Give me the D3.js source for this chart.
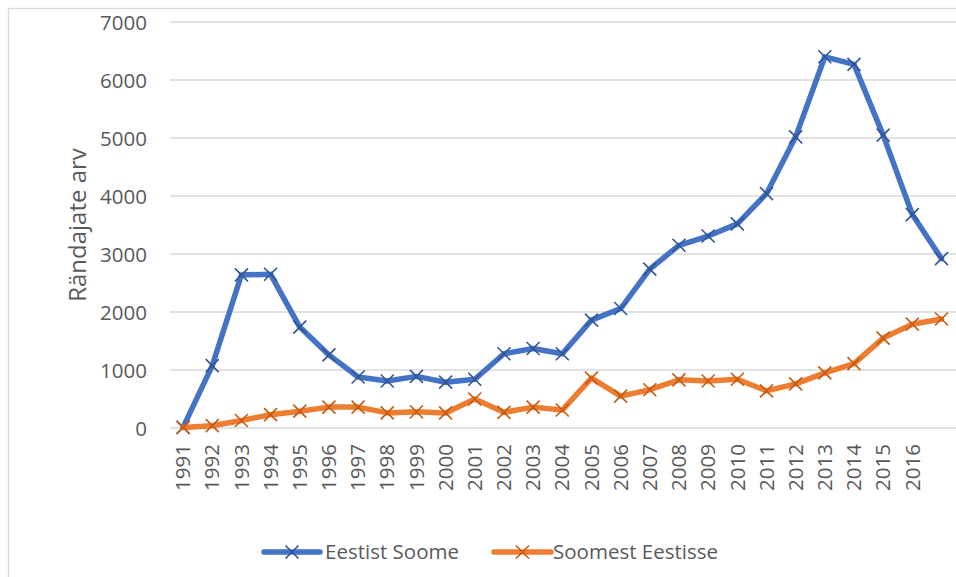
<!DOCTYPE html>
<html>
<head>
<meta charset="utf-8">
<script src="https://cdn.jsdelivr.net/npm/d3@7"></script>
<style>
  html, body { margin: 0; padding: 0; background: #fff; }
  svg { display: block; }
  text { font-family: "Open Sans", "Noto Sans", sans-serif; fill: #595959; }
</style>
</head>
<body>
<script>
const categories = ["1991","1992","1993","1994","1995","1996","1997","1998","1999","2000",
  "2001","2002","2003","2004","2005","2006","2007","2008","2009","2010",
  "2011","2012","2013","2014","2015","2016",""];
const eestistSoome = [10,1075,2640,2650,1740,1260,880,810,890,790,
  840,1280,1370,1280,1860,2060,2740,3150,3310,3520,
  4040,5020,6400,6270,5050,3680,2920];
const soomestEestisse = [10,40,130,230,290,360,360,260,280,260,
  500,270,360,310,860,550,660,830,810,840,
  640,760,950,1110,1550,1790,1880];
const yTicks = [0,1000,2000,3000,4000,5000,6000,7000];
const seriesNames = ["Eestist Soome","Soomest Eestisse"];
const lineColors = ["#4472C4","#ED7D31"];
const markerColors = ["#2F5597","#C55A11"];
const yTitle = "Rändajate arv";

const W = 956, H = 577;
const svg = d3.select("body").append("svg").attr("width", W).attr("height", H);
svg.append("rect").attr("width", W).attr("height", H).attr("fill", "#fff");

// chart frame
svg.append("rect").attr("x", 8.5).attr("y", 8.5).attr("width", W + 20).attr("height", H + 20)
  .attr("fill", "none").attr("stroke", "#d9d9d9").attr("stroke-width", 1.3);

const x = d3.scaleBand().domain(categories).range([168.5, 168.5 + 27 * 29.17]);
const y = d3.scaleLinear().domain([0, 7000]).range([428, 22]);
const cx = d => x(d) + x.bandwidth() / 2;

// gridlines
svg.append("g").selectAll("line").data(yTicks).join("line")
  .attr("x1", 170).attr("x2", W)
  .attr("y1", d => y(d)).attr("y2", d => y(d))
  .attr("stroke", "#d9d9d9").attr("stroke-width", 1.3);

// y axis labels
const yAxis = d3.axisLeft(y).tickValues(yTicks).tickSize(0).tickPadding(0).tickFormat(d3.format("d"));
const gy = svg.append("g").attr("transform", "translate(147,0)").call(yAxis);
gy.select(".domain").remove();
gy.selectAll("text").attr("font-size", 20.5).attr("font-family", "'Open Sans', sans-serif")
  .attr("fill", "#595959").attr("dy", "0.35em");

// x axis labels
const xAxis = d3.axisBottom(x).tickSize(0).tickPadding(0);
const gx = svg.append("g").attr("transform", "translate(0,428)").call(xAxis);
gx.select(".domain").remove();
gx.selectAll("text").attr("font-size", 20.5).attr("font-family", "'Open Sans', sans-serif")
  .attr("fill", "#595959")
  .attr("text-anchor", "end").attr("transform", "rotate(-90)")
  .attr("x", -16).attr("y", 0).attr("dy", "0.35em");

// y title
svg.append("text").attr("transform", "translate(78,225) rotate(-90)")
  .attr("text-anchor", "middle").attr("dy", "0.35em")
  .attr("font-size", 24).text(yTitle);

const allSeries = [eestistSoome, soomestEestisse];
const line = d3.line().x((d, i) => cx(categories[i])).y(d => y(d));
const ms = 6.5;
function drawX(g, color) {
  g.append("path").attr("d", `M${-ms},${-ms}L${ms},${ms}M${-ms},${ms}L${ms},${-ms}`)
    .attr("stroke", color).attr("stroke-width", 1.6).attr("fill", "none");
}

allSeries.forEach((vals, si) => {
  svg.append("path").datum(vals).attr("d", line)
    .attr("fill", "none").attr("stroke", lineColors[si]).attr("stroke-width", 5.5)
    .attr("stroke-linejoin", "round").attr("stroke-linecap", "round");
  const mg = svg.append("g");
  vals.forEach((v, i) => {
    const g = mg.append("g").attr("transform", `translate(${cx(categories[i])},${y(v)})`);
    drawX(g, markerColors[si]);
  });
});

// legend
const legendItems = [{x0: 264, x1: 320, tx: 325}, {x0: 494, x1: 551, tx: 553}];
legendItems.forEach((it, si) => {
  svg.append("line").attr("x1", it.x0).attr("x2", it.x1).attr("y1", 552).attr("y2", 552)
    .attr("stroke", lineColors[si]).attr("stroke-width", 5.5).attr("stroke-linecap", "round");
  const g = svg.append("g").attr("transform", `translate(${(it.x0 + it.x1) / 2},552)`);
  drawX(g, markerColors[si]);
  svg.append("text").attr("x", it.tx).attr("y", 552).attr("dy", "0.35em")
    .attr("font-size", 20.5).text(seriesNames[si]);
});
</script>
</body>
</html>
